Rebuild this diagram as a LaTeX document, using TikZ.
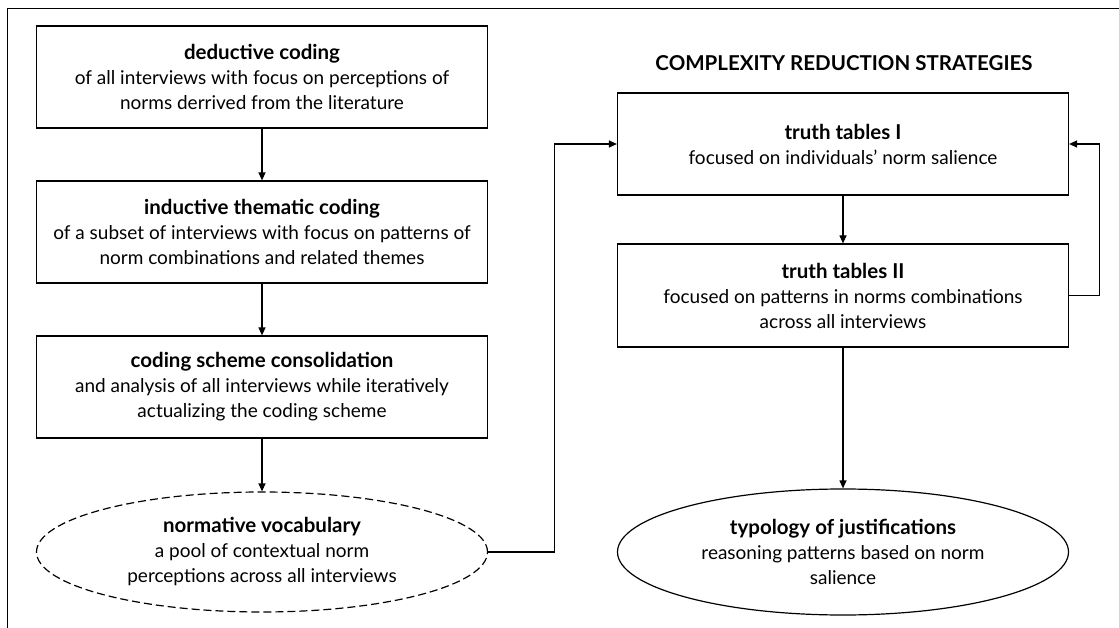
\documentclass[tikz,border=0pt]{standalone}
\usepackage{fontspec}
\setmainfont{Lato}
\usetikzlibrary{arrows.meta,shapes.geometric}

\newcommand{\heading}[1]{{\fontsize{20.5}{25}\selectfont\bfseries #1}}

\begin{document}
\begin{tikzpicture}[x=1pt, y=-1pt,
    box/.style={draw, line width=1.2pt, minimum width=451pt, minimum height=102pt,
        inner sep=0pt, align=center, font=\fontsize{19}{25}\selectfont},
    oval/.style={draw, ellipse, line width=1.2pt, minimum width=451pt,
        minimum height=120pt, inner sep=0pt},
    ovaltext/.style={align=center, inner sep=0pt, font=\fontsize{19}{25}\selectfont},
    flow/.style={-{Triangle[length=8pt,width=7pt]}, line width=1.2pt}]

    \useasboundingbox (0,0) rectangle (1119,628);

    % Frame (only top and left edges show)
    \draw[line width=1pt] (7,628) -- (7,9) -- (1119,9);

    % ---- Left column: coding steps ----
    \node[box] (deduct) at (262,77) {\heading{deductive coding}\\
        of all interviews with focus on perceptions of\\
        norms derrived from the literature};
    \node[box] (induct) at (262,232) {\heading{inductive thematic coding}\\
        of a subset of interviews with focus on patterns of\\
        norm combinations and related themes};
    \node[box] (consol) at (262,387) {\heading{coding scheme consolidation}\\
        and analysis of all interviews while iteratively\\
        actualizing the coding scheme};

    % Outcome of the coding (dashed)
    \node[oval, dash pattern=on 8pt off 4pt] (vocab) at (262,552) {};
    \node[ovaltext] (vocabtxt) at (vocab) {\heading{normative vocabulary}\\
        a pool of contextual norm\\
        perceptions across all interviews};

    \draw[flow] (deduct.south) -- (induct.north);
    \draw[flow] (induct.south) -- (consol.north);
    \draw[flow] (consol.south) -- (vocab.north);

    % ---- Right column: complexity reduction ----
    \node[font=\bfseries\fontsize{20.5}{22}\selectfont] (title) at (844,63)
        {COMPLEXITY REDUCTION STRATEGIES};

    \node[box] (tt1) at (843,144) {\heading{truth tables I}\\
        focused on individuals’ norm salience};
    \node[box, minimum height=103pt] (tt2) at (843,295.5) {\heading{truth tables II}\\
        focused on patterns in norms combinations\\
        across all interviews};

    \node[oval, minimum height=126pt] (typol) at (843,552) {};
    \node[ovaltext] (typoltxt) at (typol) {\heading{typology of justifications}\\
        reasoning patterns based on norm\\
        salience};

    \draw[flow] (tt1.south) -- (tt2.north);
    \draw[flow] (tt2.south) -- (typol.north);

    % Feedback loop and link between columns
    \draw[flow] (tt2.east) -- ++(30,0) |- (tt1.east);
    \draw[flow] (vocab.east) -- ++(66,0) |- (tt1.west);

\end{tikzpicture}
\end{document}
